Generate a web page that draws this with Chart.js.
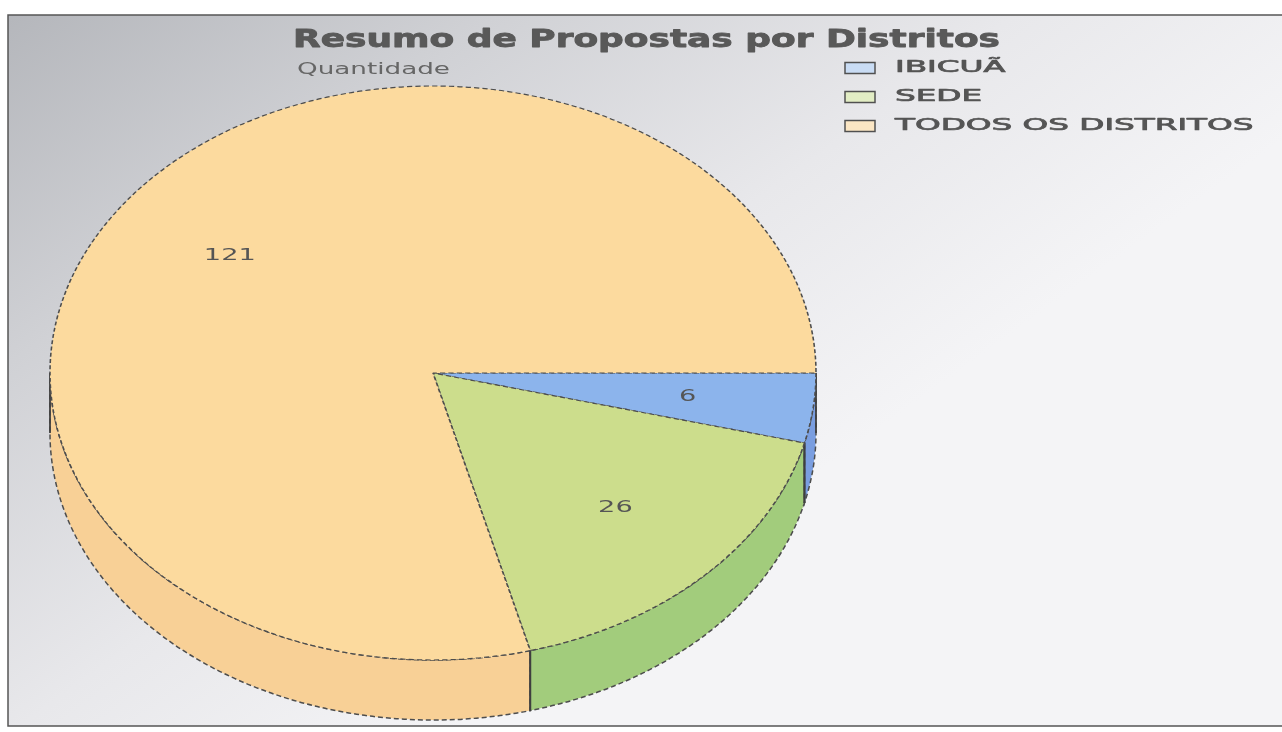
<!DOCTYPE html>
<html><head><meta charset="utf-8">
<script src="https://cdn.jsdelivr.net/npm/chart.js@4.4.1/dist/chart.umd.min.js"></script>
<style>html,body{margin:0;padding:0;background:#fff;overflow:hidden}canvas{display:block}</style>
</head><body>
<canvas id="c" width="1282" height="732" style="width:1282px;height:732px"></canvas>
<script>
const titleText = 'Resumo de Propostas por Distritos';
const subtitleText = 'Quantidade';
const categories = ['IBICUÃ', 'SEDE', 'TODOS OS DISTRITOS'];
const values = [6, 26, 121];
const topColors = ['#8CB4EC', '#CCDD8C', '#FCDA9E'];
const sideColors = ['#7A9EE0', '#A2CC7C', '#F8D096'];
const legendFill = ['#C9DCF4', '#E2EDC4', '#FBE6C4'];

const PIE = {cx: 433, cy: 373, rx: 383, ry: 287, depth: 60};
const FONT = '"DejaVu Sans", sans-serif';

function stretchedText(ctx, text, x, y, font, sx, align, color, strokeW) {
  ctx.save();
  ctx.font = font;
  ctx.fillStyle = color;
  ctx.textBaseline = 'middle';
  ctx.textAlign = 'left';
  const w = ctx.measureText(text).width * sx;
  let x0 = x;
  if (align === 'center') x0 = x - w / 2;
  else if (align === 'right') x0 = x - w;
  ctx.translate(x0, y);
  ctx.scale(sx, 1);
  ctx.fillText(text, 0, 0);
  if (strokeW) {
    ctx.strokeStyle = color;
    ctx.lineWidth = strokeW;
    ctx.lineJoin = 'round';
    ctx.strokeText(text, 0, 0);
  }
  ctx.restore();
}
function fitText(ctx, text, x0, x1, y, font, color, strokeW) {
  ctx.save(); ctx.font = font; const m = ctx.measureText(text).width; ctx.restore();
  stretchedText(ctx, text, x0, y, font, (x1 - x0) / m, 'left', color, strokeW);
}

const pie3d = {
  id: 'pie3d',
  beforeDraw(chart) {
    const ctx = chart.ctx;
    ctx.save();
    ctx.fillStyle = '#ffffff';
    ctx.fillRect(0, 0, chart.width, chart.height);
    const g = ctx.createLinearGradient(0, 0, 500, 700);
    g.addColorStop(0, '#b3b5ba');
    g.addColorStop(0.35, '#d0d1d5');
    g.addColorStop(0.7, '#e8e8eb');
    g.addColorStop(1, '#f4f4f6');
    ctx.fillStyle = g;
    ctx.fillRect(8, 15, chart.width, 711);
    ctx.strokeStyle = '#555';
    ctx.lineWidth = 1.5;
    ctx.strokeRect(8, 15, chart.width + 10, 711);
    ctx.restore();
  },
  beforeDatasetsDraw(chart) {
    const ctx = chart.ctx;
    const meta = chart.getDatasetMeta(0);
    const {cx, cy, rx, ry, depth} = PIE;
    ctx.save();
    const edges = [];
    meta.data.forEach((arc, i) => {
      const p = arc.getProps(['startAngle', 'endAngle'], true);
      [0, 2 * Math.PI, -2 * Math.PI].forEach(k => {
        const a = Math.max(p.startAngle, k), b = Math.min(p.endAngle, k + Math.PI);
        if (b > a) {
          ctx.beginPath();
          ctx.ellipse(cx, cy, rx, ry, 0, a, b, false);
          ctx.lineTo(cx + rx * Math.cos(b), cy + depth + ry * Math.sin(b));
          ctx.ellipse(cx, cy + depth, rx, ry, 0, b, a, true);
          ctx.closePath();
          ctx.fillStyle = sideColors[i];
          ctx.fill();
          ctx.setLineDash([5, 3]);
          ctx.strokeStyle = '#4d4d4d';
          ctx.lineWidth = 1.5;
          ctx.stroke();
          edges.push(a, b);
        }
      });
    });
    ctx.setLineDash([]);
    ctx.strokeStyle = '#3f3f3f';
    ctx.lineWidth = 1.8;
    edges.forEach(t => {
      ctx.beginPath();
      ctx.moveTo(cx + rx * Math.cos(t), cy + ry * Math.sin(t));
      ctx.lineTo(cx + rx * Math.cos(t), cy + depth + ry * Math.sin(t));
      ctx.stroke();
    });
    ctx.restore();
    const a0 = meta.data[0].getProps(['x', 'y', 'outerRadius'], true);
    ctx.save();
    ctx.translate(cx, cy);
    ctx.scale(rx / a0.outerRadius, ry / a0.outerRadius);
    ctx.translate(-a0.x, -a0.y);
  },
  afterDatasetsDraw(chart) {
    const ctx = chart.ctx;
    ctx.restore();
    const meta = chart.getDatasetMeta(0);
    const {cx, cy, rx, ry} = PIE;
    meta.data.forEach((arc, i) => {
      const p = arc.getProps(['startAngle', 'endAngle'], true);
      const m = (p.startAngle + p.endAngle) / 2;
      const f = 0.67;
      stretchedText(ctx, String(values[i]), cx + f * rx * Math.cos(m), cy + f * ry * Math.sin(m),
        '16px ' + FONT, 1.7, 'center', '#555');
    });
    fitText(ctx, titleText, 293, 1000, 41, 'bold 24px ' + FONT, '#595959', 0.8);
    fitText(ctx, subtitleText, 297, 450, 70, '15px ' + FONT, '#666');
    categories.forEach((c, i) => {
      const yc = 68 + i * 29;
      ctx.save();
      ctx.fillStyle = legendFill[i];
      ctx.fillRect(845, yc - 5.5, 30, 11);
      ctx.strokeStyle = '#505050';
      ctx.lineWidth = 1.5;
      ctx.strokeRect(845, yc - 5.5, 30, 11);
      ctx.restore();
      stretchedText(ctx, c, 895, yc, '16px ' + FONT, 2.04, 'left', '#555', 0.7);
    });
  }
};

new Chart(document.getElementById('c'), {
  type: 'pie',
  data: {
    labels: categories,
    datasets: [{
      data: values,
      backgroundColor: topColors,
      borderColor: '#4d4d4d',
      borderWidth: 1.5,
      borderDash: [5, 3],
      clip: false
    }]
  },
  options: {
    responsive: false,
    animation: false,
    devicePixelRatio: 1,
    rotation: 90,
    events: [],
    layout: {padding: 0},
    plugins: {
      legend: {display: false},
      title: {display: false},
      tooltip: {enabled: false}
    }
  },
  plugins: [pie3d]
});
</script>
</body></html>
